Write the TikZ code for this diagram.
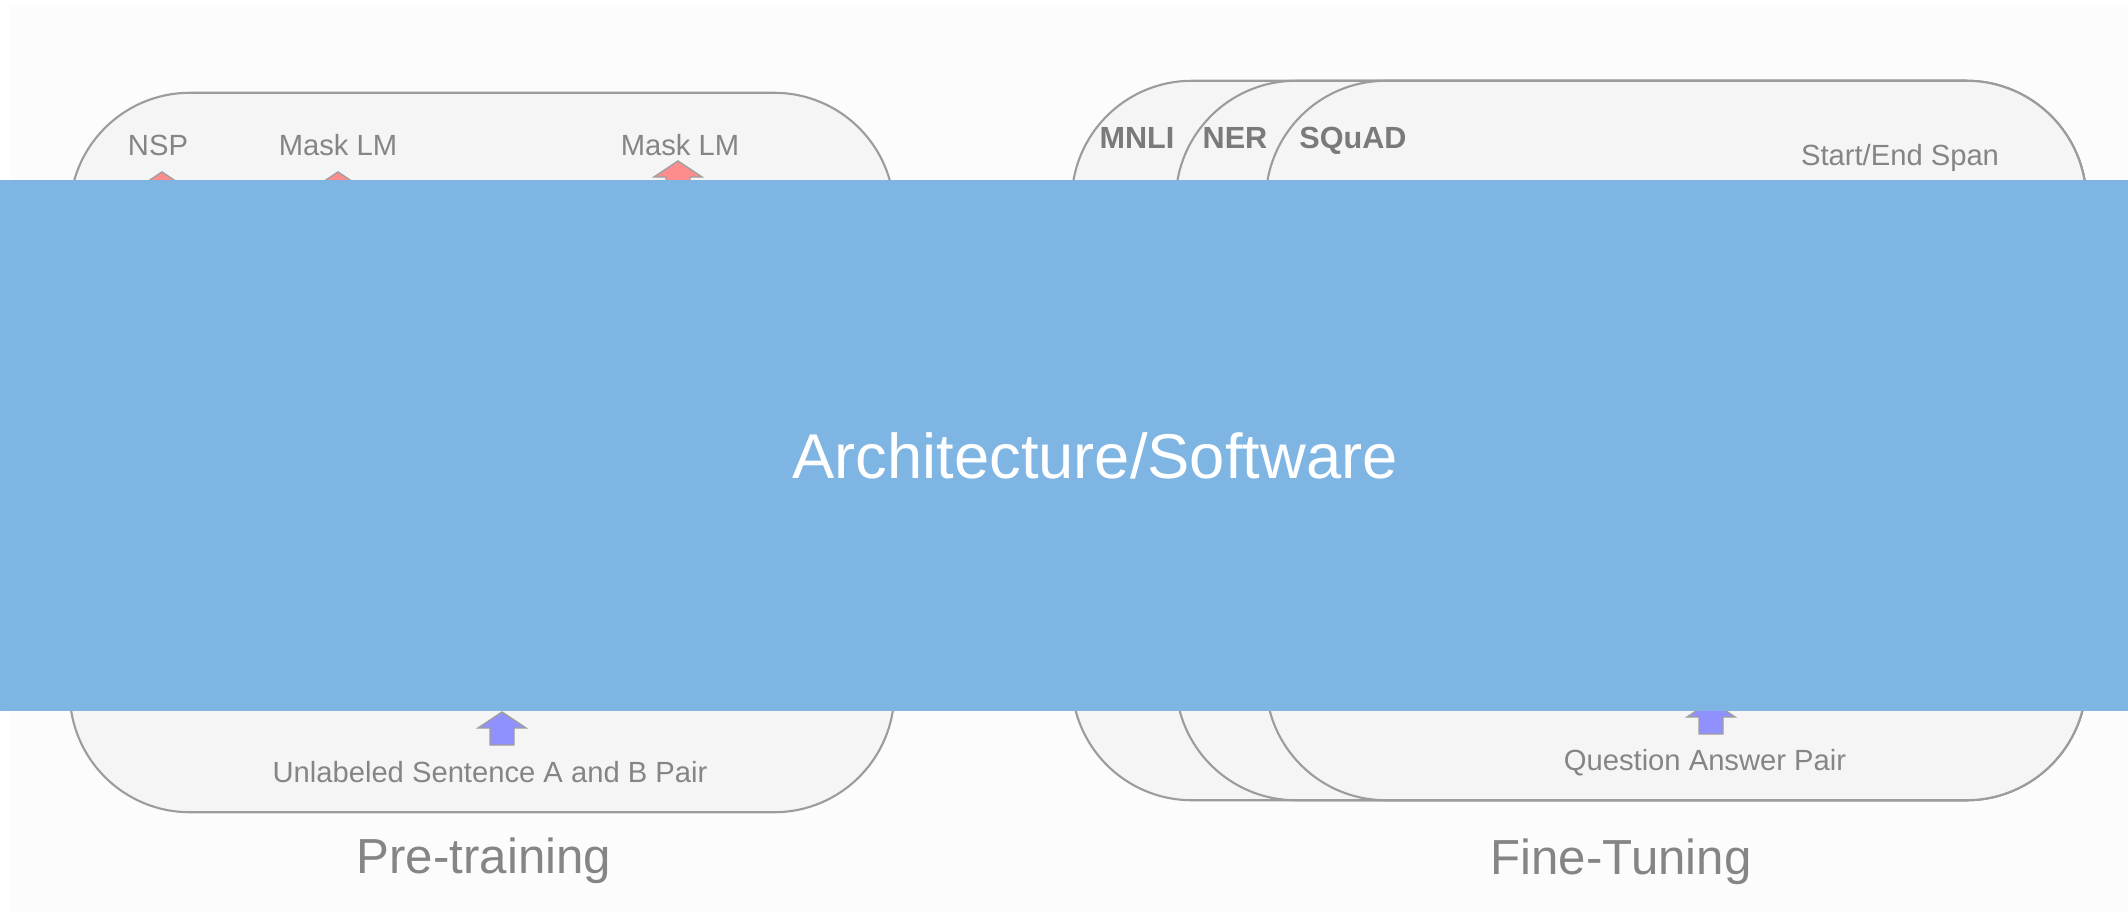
\documentclass[tikz,border=0pt]{standalone}
\usepackage{fontspec}
\setmainfont{Liberation Sans}
\usetikzlibrary{positioning}
\definecolor{pagefill}{HTML}{FCFCFC}
\definecolor{pillfill}{HTML}{F5F5F5}
\definecolor{pilldraw}{HTML}{9C9C9C}
\definecolor{labelgray}{HTML}{858585}
\definecolor{arrowred}{HTML}{FF8C8C}
\definecolor{arrowblue}{HTML}{9090FF}
\definecolor{overlayblue}{RGB}{127,181,227}
\tikzset{
  uparrow/.pic={\path[pic actions] (0,0) -- (24,16) -- (12,16) -- (12,33) -- (-12,33) -- (-12,16) -- (-24,16) -- cycle;}
}

\begin{document}
\begin{tikzpicture}[x=0.01cm, y=-0.01cm,
        pill/.style={draw=pilldraw, fill=pillfill, line width=0.6pt, rounded corners=1.2cm, minimum width=8.2cm, minimum height=7.19cm, inner sep=0pt},
        lbl/.style={text=labelgray, anchor=base, inner sep=0pt, font=\fontsize{8.3}{10}\selectfont},
        tasklbl/.style={lbl, text=labelgray!92!black, font=\fontsize{8.7}{10}\selectfont\bfseries},
        title/.style={lbl, font=\fontsize{14}{16}\selectfont},
        redup/.style={fill=arrowred, draw=gray!75, line width=0.4pt},
        blueup/.style={fill=arrowblue, draw=gray!75, line width=0.4pt}
    ]
    \useasboundingbox (0,0) rectangle (2128,915);
    \fill[pagefill] (10,5) rectangle (2128,912);

    % pre-training
    \node[pill, minimum width=8.24cm] (pretrainbox) at (482,452.5) {};
    \node[lbl] (nsp) at (158,155) {NSP};
    \node[lbl] (mlmleft) at (338,155) {Mask LM};
    \node[lbl] (mlmright) at (680,155) {Mask LM};
    \pic[redup] at (162,172) {uparrow};
    \pic[redup] at (338,172) {uparrow};
    \pic[redup] at (678,161) {uparrow};
    \pic[blueup] at (502,712) {uparrow};
    \node[lbl] (sentpair) at (490,782) {Unlabeled Sentence A and B Pair};
    \node[title] (pretrain) at (484,873) {Pre-training};

    % fine-tuning
    \node[pill, minimum width=10.14cm] (mnlibox) at (1579,440.5) {};
    \node[pill, minimum width=9.1cm] (nerbox) at (1631,440.5) {};
    \node[pill] (squadbox) at (1676,440.5) {};
    \node[tasklbl] (mnli) at (1137,148) {MNLI};
    \node[tasklbl] (ner) at (1235,148) {NER};
    \node[tasklbl] (squad) at (1353,148) {SQuAD};
    \node[lbl] (span) at (1900,165) {Start/End Span};
    \pic[blueup] at (1711,701) {uparrow};
    \node[lbl] (qapair) at (1705,770) {Question Answer Pair};
    \node[title] (finetune) at (1621,874) {Fine-Tuning};

    % cover band
    \node[fill=overlayblue, minimum width=21.28cm, minimum height=5.31cm, inner sep=0pt, outer sep=0pt] (overlay) at (1064,445.5) {};
    \node[anchor=base, inner sep=0pt, text=white, font=\fontsize{18}{20}\selectfont] (archtext) at (1095,478) {Architecture/Software};
\end{tikzpicture}
\end{document}
